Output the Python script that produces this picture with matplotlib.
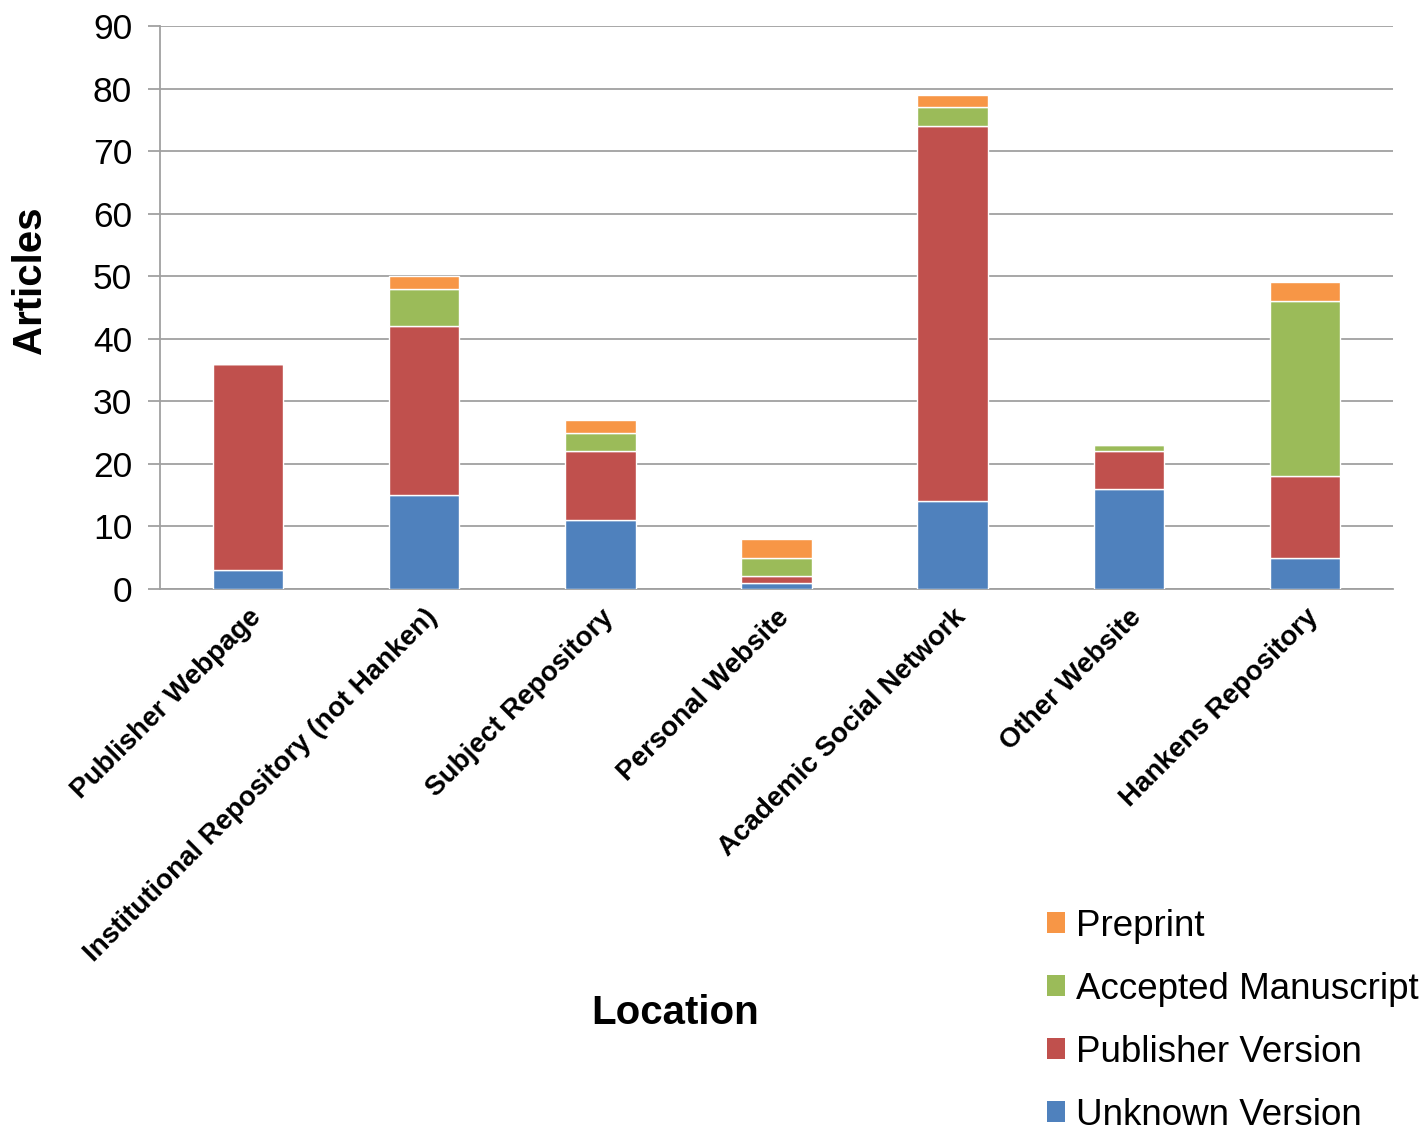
import matplotlib
matplotlib.use("Agg")
import matplotlib.pyplot as plt
from matplotlib.patches import Patch
import numpy as np

plt.rcParams['font.family'] = ['Liberation Sans', 'DejaVu Sans']

categories = ["Publisher Webpage", "Institutional Repository (not Hanken)",
              "Subject Repository", "Personal Website", "Academic Social Network",
              "Other Website", "Hankens Repository"]
unknown_version = [3, 15, 11, 1, 14, 16, 5]
publisher_version = [33, 27, 11, 1, 60, 6, 13]
accepted_manuscript = [0, 6, 3, 3, 3, 1, 28]
preprint = [0, 2, 2, 3, 2, 0, 3]
series_names = ["Unknown Version", "Publisher Version", "Accepted Manuscript", "Preprint"]
colors = ["#4F81BD", "#C0504D", "#9BBB59", "#F79646"]
yticks = [0, 10, 20, 30, 40, 50, 60, 70, 80, 90]

fig = plt.figure(figsize=(14.27, 11.34), dpi=100)
ax = fig.add_axes([160/1427, 1-589/1134, (1393-160)/1427, (589-26)/1134])

x = np.arange(len(categories))
bottom = np.zeros(len(categories))
handles = []
for name, vals, c in zip(series_names, [unknown_version, publisher_version, accepted_manuscript, preprint], colors):
    vals = np.array(vals, dtype=float)
    ax.bar(x, vals, width=0.4, bottom=bottom, color=c, edgecolor='white', linewidth=1.0, zorder=3)
    bottom += vals
    handles.append(Patch(facecolor=c, edgecolor='none', label=name))

ax.set_xlim(-0.5, len(categories) - 0.5)
ax.set_ylim(0, 90)
ax.set_yticks(yticks)
ax.set_yticklabels([str(v) for v in yticks], fontsize=25.5)
ax.yaxis.grid(True, color='#A0A0A0', linewidth=1.3, zorder=0)
ax.set_axisbelow(True)
for s in ['top', 'right']:
    ax.spines[s].set_visible(False)
for s in ['left', 'bottom']:
    ax.spines[s].set_color('#A0A0A0')
    ax.spines[s].set_linewidth(1.3)
ax.tick_params(axis='y', length=9, width=1.3, color='#A0A0A0', pad=11)
ax.tick_params(axis='x', length=0, pad=11)

ax.set_xticks(x)
ax.set_xticklabels(categories, rotation=45, ha='right', rotation_mode='anchor',
                   fontsize=20, fontweight='bold')

fig.text(30/1427, 1-280/1134, "Articles", rotation=90, fontsize=29, fontweight='bold',
         ha='center', va='center')
fig.text(675/1427, 1-1013/1134, "Location", fontsize=29, fontweight='bold',
         ha='center', va='center')

leg = fig.legend(handles=handles[::-1], loc='upper left',
                 bbox_to_anchor=(1047/1427, 1-909/1134), frameon=False,
                 fontsize=26.5, borderpad=0, borderaxespad=0, handlelength=0.5,
                 handleheight=0.5, handletextpad=0.3, labelspacing=0.76)

fig.savefig("out.png", dpi=100)
